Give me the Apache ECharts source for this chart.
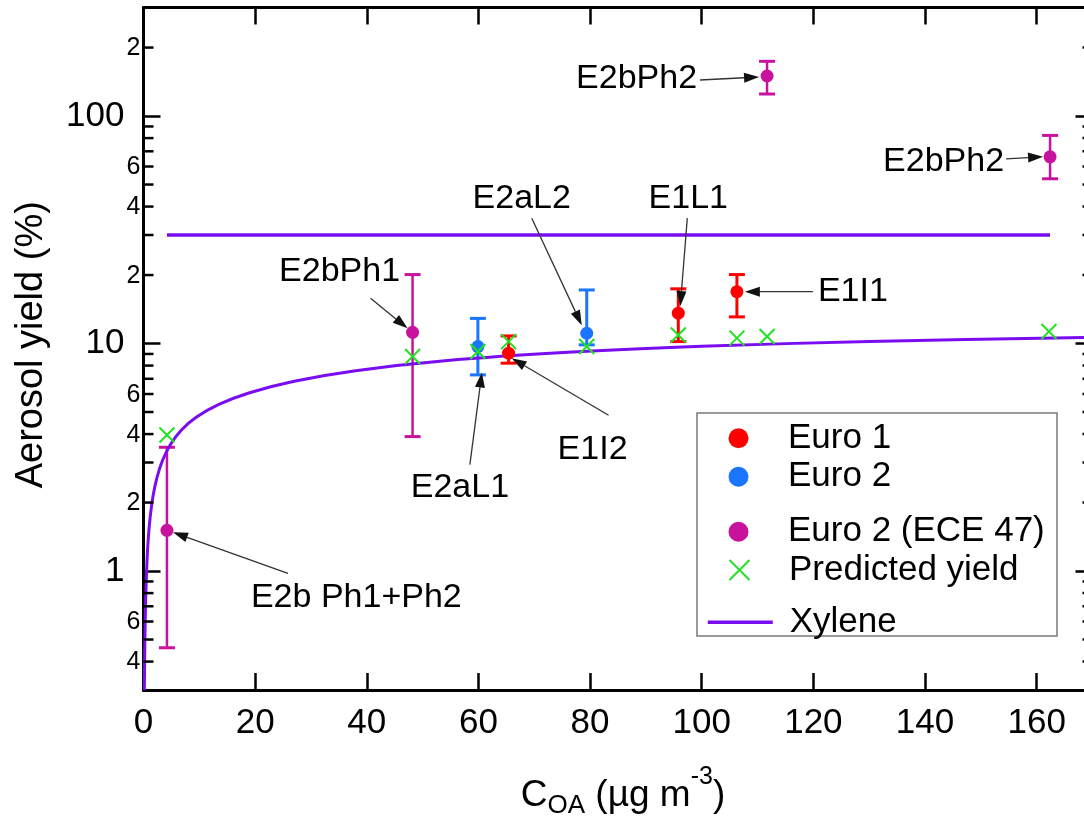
<!DOCTYPE html>
<html>
<head>
<meta charset="utf-8">
<script src="https://cdn.jsdelivr.net/npm/echarts@6/dist/echarts.min.js"></script>
<style>
  html, body { margin: 0; padding: 0; background: #fff; }
  #chart { width: 1084px; height: 816px; }
</style>
</head>
<body>
<div id="chart"></div>
<script>
// ---- Euro 1 vehicles: measured yield with uncertainty range ----
const euro1Names = ['E1I2', 'E1L1', 'E1I1'];
const euro1X     = [65.4, 95.8, 106.3];
const euro1Y     = [9.07, 13.6, 16.9];
const euro1Low   = [8.2, 10.2, 13.1];
const euro1High  = [10.8, 17.4, 20.1];

// ---- Euro 2 vehicles ----
const euro2Names = ['E2aL1', 'E2aL2'];
const euro2X     = [59.9, 79.4];
const euro2Y     = [9.7, 11.1];
const euro2Low   = [7.28, 9.87];
const euro2High  = [12.9, 17.2];

// ---- Euro 2 (ECE 47) vehicles ----
const ece47Names = ['E2b Ph1+Ph2', 'E2bPh1', 'E2bPh2', 'E2bPh2'];
const ece47X     = [4.2, 48.2, 111.7, 162.4];
const ece47Y     = [1.51, 11.2, 150, 66.2];
const ece47Low   = [0.46, 3.9, 125, 53];
const ece47High  = [3.5, 20.1, 174, 82.2];

// ---- Predicted yield at each experiment's C_OA ----
const predX = [4.2, 48.2, 59.9, 65.4, 79.4, 95.8, 106.3, 111.7, 162.2];
const predY = [3.96, 8.77, 9.22, 10.2, 9.7, 10.9, 10.56, 10.74, 11.29];

// ---- Xylene yield curve ----
const xyleneX = [0.15, 0.25, 0.4, 0.6, 0.85, 1.2, 1.7, 2.4, 3.4, 4.8, 6.8, 9.5, 13.5, 19, 27, 38, 54, 76, 100, 130, 170];
const xyleneY = [0.3, 0.5, 0.77, 1.07, 1.38, 1.73, 2.13, 2.57, 3.06, 3.59, 4.17, 4.75, 5.4, 6.08, 6.83, 7.6, 8.4, 9.15, 9.72, 10.22, 10.65];

// ---- Xylene level line ----
const xyleneLevelX = [4.2, 162.4];
const xyleneLevelY = [30, 30];

// ---- Axis ranges and extra log-axis ticks ----
const X_MIN = 0, X_MAX = 170, X_STEP = 20;
const Y_MIN = 0.3, Y_MAX = 300;
const minorTickValues  = [0.4, 0.5, 0.6, 0.7, 0.8, 0.9, 2, 3, 4, 5, 6, 7, 8, 9, 20, 30, 40, 50, 60, 70, 80, 90, 200];
const minorLabelValues = [0.4, 0.6, 2, 4, 6, 20, 40, 60, 200];
const minorLabelTexts  = ['4', '6', '2', '4', '6', '2', '4', '6', '2'];

// ---- Styling ----
const FONT = "'Liberation Sans', Arimo, Arial, sans-serif";
const C = {
  euro1: '#ff0000',
  euro2: '#1a75ff',
  ece47: '#c8129e',
  pred: '#22e022',
  xylene: '#7a0cf2',
  ink: '#000'
};

const groups = {
  euro1: { names: euro1Names, x: euro1X, y: euro1Y, lo: euro1Low, hi: euro1High },
  euro2: { names: euro2Names, x: euro2X, y: euro2Y, lo: euro2Low, hi: euro2High },
  ece47: { names: ece47Names, x: ece47X, y: ece47Y, lo: ece47Low, hi: ece47High }
};

// Callout placement, in pixels relative to the labelled point
const annotationLayout = [
  { group: 'ece47', i: 0, label: [84, 67],    align: 'left',   start: [121, 43],  tip: [6, 2] },
  { group: 'ece47', i: 1, label: [-73, -61],  align: 'center', start: [-42, -34], tip: [-5, -4] },
  { group: 'ece47', i: 2, label: [-70, 3],    align: 'right',  start: [-67, 4],   tip: [-8, 1] },
  { group: 'ece47', i: 3, label: [-46, 5],    align: 'right',  start: [-44, 2],   tip: [-7, 0] },
  { group: 'euro2', i: 0, label: [-18, 141],  align: 'center', start: [-8, 118],  tip: [4, 26] },
  { group: 'euro2', i: 1, label: [-65, -135], align: 'center', start: [-55, -115], tip: [-5, -8] },
  { group: 'euro1', i: 0, label: [84, 96],    align: 'center', start: [100, 62],  tip: [3, 5] },
  { group: 'euro1', i: 1, label: [10, -115],  align: 'center', start: [9, -95],   tip: [2, -7] },
  { group: 'euro1', i: 2, label: [81, 0],     align: 'left',   start: [76, 0],    tip: [8, 0] }
];

function zip(a, b) { return a.map((v, k) => [v, b[k]]); }

function errorBarSeries(name, g, color, width) {
  return {
    name: name,
    type: 'custom',
    clip: false,
    silent: true,
    z: 3,
    encode: { x: 0, y: [1, 2] },
    data: g.x.map((v, k) => [v, g.lo[k], g.hi[k]]),
    renderItem: function (params, api) {
      const x = api.value(0);
      const lo = api.coord([x, api.value(1)]);
      const hi = api.coord([x, api.value(2)]);
      const cw = 8;
      const st = { stroke: color, lineWidth: width };
      const cap = { stroke: color, lineWidth: 3 };
      return {
        type: 'group',
        children: [
          { type: 'line', shape: { x1: lo[0], y1: lo[1], x2: hi[0], y2: hi[1] }, style: st },
          { type: 'line', shape: { x1: lo[0] - cw, y1: lo[1], x2: lo[0] + cw, y2: lo[1] }, style: cap },
          { type: 'line', shape: { x1: hi[0] - cw, y1: hi[1], x2: hi[0] + cw, y2: hi[1] }, style: cap }
        ]
      };
    }
  };
}

function pointSeries(name, g, color) {
  return {
    name: name,
    type: 'scatter',
    z: 4,
    symbol: 'circle',
    symbolSize: 13,
    itemStyle: { color: color, opacity: 1 },
    data: zip(g.x, g.y)
  };
}

function textEl(x, y, text, size, align) {
  return {
    type: 'text',
    x: x, y: y,
    style: {
      text: text,
      fontSize: size,
      fontFamily: FONT,
      font: size + 'px ' + FONT,
      fill: C.ink,
      textFill: C.ink,
      align: align, textAlign: align,
      verticalAlign: 'middle', textVerticalAlign: 'middle'
    }
  };
}

const legendText = { fontSize: 35, color: C.ink, fontFamily: FONT, padding: [0, 0, 0, 12] };
function legendBox(item, left, top, itemHeight) {
  return {
    orient: 'vertical',
    left: left,
    top: top,
    padding: 0,
    itemWidth: 65,
    itemHeight: itemHeight,
    itemGap: 0,
    textStyle: legendText,
    data: [item]
  };
}

const option = {
  animation: false,
  backgroundColor: '#fff',
  textStyle: { fontFamily: FONT },
  grid: {
    left: 143.5, right: -8.5, top: 7.5, bottom: 126,
    containLabel: false,
    outerBoundsMode: 'none'
  },
  graphic: [{
    type: 'rect',
    z: 1,
    shape: { x: 697, y: 413, width: 360, height: 223 },
    style: { fill: '#fff', stroke: '#7a7a7a', lineWidth: 1.5 }
  }],
  legend: [
    legendBox('Euro 1', 728.5, 420.8, 20),
    legendBox('Euro 2', 728.5, 459.2, 20),
    legendBox('Euro 2 (ECE 47)', 728.5, 514.2, 20),
    legendBox('Predicted yield', 728.5, 552.5, 20),
    legendBox({
      name: 'Xylene',
      itemStyle: { opacity: 0, color: 'rgba(0,0,0,0)', borderWidth: 0 },
      lineStyle: { color: C.xylene, width: 3.5 }
    }, 706, 604.8, 13)
  ],
  xAxis: [{
    type: 'value',
    position: 'bottom',
    min: X_MIN, max: X_MAX, interval: X_STEP,
    axisLine: { show: true, onZero: false, lineStyle: { color: C.ink, width: 3 } },
    axisTick: { show: true, inside: true, length: 17, lineStyle: { color: C.ink, width: 2.5 } },
    axisLabel: { color: C.ink, fontSize: 35, fontFamily: FONT, margin: 16, showMaxLabel: false },
    splitLine: { show: false },
    name: '{c|C}{s|OA}{c| (µg m}{p|-3}{c|)}',
    nameLocation: 'middle',
    nameGap: 86,
    nameMoveOverlap: false,
    nameTextStyle: {
      color: C.ink,
      padding: [0, 0, 0, 10],
      rich: {
        c: { fontSize: 37, fontFamily: FONT, color: C.ink, lineHeight: 40 },
        s: { fontSize: 26, fontFamily: FONT, color: C.ink, lineHeight: 26, padding: [20, 0, 0, 0] },
        p: { fontSize: 25, fontFamily: FONT, color: C.ink, lineHeight: 25, padding: [0, 0, 38, 0] }
      }
    }
  }, {
    type: 'value',
    position: 'top',
    min: X_MIN, max: X_MAX, interval: X_STEP,
    axisLine: { show: true, onZero: false, lineStyle: { color: C.ink, width: 3 } },
    axisTick: { show: true, inside: true, length: 17, lineStyle: { color: C.ink, width: 2.5 } },
    axisLabel: { show: false },
    splitLine: { show: false }
  }],
  yAxis: [{
    type: 'log',
    logBase: 10,
    position: 'left',
    min: Y_MIN, max: Y_MAX,
    axisLine: { show: true, onZero: false, lineStyle: { color: C.ink, width: 3 } },
    axisTick: { show: true, inside: true, length: 17, lineStyle: { color: C.ink, width: 2.5 } },
    axisLabel: { color: C.ink, fontSize: 35, fontFamily: FONT, margin: 19, showMinLabel: false, showMaxLabel: false },
    splitLine: { show: false },
    name: 'Aerosol yield (%)',
    nameLocation: 'middle',
    nameGap: 93,
    nameMoveOverlap: false,
    nameTextStyle: { color: C.ink, fontSize: 38, fontFamily: FONT, padding: [0, 0, 0, 8] }
  }, {
    type: 'log',
    logBase: 10,
    position: 'right',
    min: Y_MIN, max: Y_MAX,
    axisLine: { show: true, onZero: false, lineStyle: { color: C.ink, width: 3 } },
    axisTick: { show: true, inside: true, length: 17, lineStyle: { color: C.ink, width: 2.5 } },
    axisLabel: { show: false },
    splitLine: { show: false }
  }],
  series: [
    errorBarSeries('Euro 2 (ECE 47) range', groups.ece47, C.ece47, 2.5),
    errorBarSeries('Euro 2 range', groups.euro2, C.euro2, 3),
    errorBarSeries('Euro 1 range', groups.euro1, C.euro1, 3),
    pointSeries('Euro 1', groups.euro1, C.euro1),
    pointSeries('Euro 2', groups.euro2, C.euro2),
    pointSeries('Euro 2 (ECE 47)', groups.ece47, C.ece47),
    {
      name: 'Predicted yield',
      type: 'scatter',
      z: 5,
      symbol: 'path://M0,0L15,15M15,0L0,15',
      symbolSize: 15,
      symbolKeepAspect: true,
      itemStyle: { color: 'transparent', borderColor: C.pred, borderWidth: 2, opacity: 1 },
      data: zip(predX, predY)
    },
    {
      name: 'Xylene',
      type: 'line',
      z: 4,
      smooth: 0.3,
      showSymbol: false,
      symbol: 'none',
      lineStyle: { color: C.xylene, width: 3 },
      itemStyle: { color: C.xylene },
      data: zip(xyleneX, xyleneY)
    },
    {
      name: 'Xylene',
      type: 'line',
      z: 4,
      showSymbol: false,
      symbol: 'none',
      lineStyle: { color: C.xylene, width: 3.5 },
      itemStyle: { color: C.xylene },
      data: zip(xyleneLevelX, xyleneLevelY)
    },
    {
      // minor ticks on the left and right log axes
      name: 'minor ticks',
      type: 'custom',
      clip: false,
      silent: true,
      z: 6,
      data: minorTickValues.map(v => [X_MIN, v]),
      renderItem: function (params, api) {
        const v = api.value(1);
        const L = api.coord([X_MIN, v]);
        const R = api.coord([X_MAX, v]);
        const st = { stroke: C.ink, lineWidth: 2.5 };
        return {
          type: 'group',
          children: [
            { type: 'line', shape: { x1: L[0], y1: L[1], x2: L[0] + 10, y2: L[1] }, style: st },
            { type: 'line', shape: { x1: R[0] - 10, y1: R[1], x2: R[0], y2: R[1] }, style: st }
          ]
        };
      }
    },
    {
      // labels for the 2, 4, 6 steps of each decade
      name: 'minor labels',
      type: 'custom',
      clip: false,
      silent: true,
      z: 6,
      data: minorLabelValues.map(v => [X_MIN, v]),
      renderItem: function (params, api) {
        const p = api.coord([X_MIN, api.value(1)]);
        return textEl(p[0] - 3, p[1] + 1, minorLabelTexts[params.dataIndex], 25, 'right');
      }
    },
    {
      // callouts naming each experiment
      name: 'callouts',
      type: 'custom',
      clip: false,
      silent: true,
      z: 7,
      data: annotationLayout.map(a => [groups[a.group].x[a.i], groups[a.group].y[a.i]]),
      renderItem: function (params, api) {
        const a = annotationLayout[params.dataIndex];
        const p = api.coord([api.value(0), api.value(1)]);
        const sx = p[0] + a.start[0], sy = p[1] + a.start[1];
        const tx = p[0] + a.tip[0], ty = p[1] + a.tip[1];
        const dx = tx - sx, dy = ty - sy;
        const len = Math.hypot(dx, dy);
        const ux = dx / len, uy = dy / len;
        const hl = 15, hw = 5;
        const bx = tx - ux * hl, by = ty - uy * hl;
        return {
          type: 'group',
          children: [
            { type: 'line', shape: { x1: sx, y1: sy, x2: bx, y2: by }, style: { stroke: '#333', lineWidth: 1.3 } },
            { type: 'polygon', shape: { points: [[tx, ty], [bx - uy * hw, by + ux * hw], [bx + uy * hw, by - ux * hw]] }, style: { fill: '#111' } },
            textEl(p[0] + a.label[0], p[1] + a.label[1], groups[a.group].names[a.i], 34, a.align)
          ]
        };
      }
    }
  ]
};

const chart = echarts.init(document.getElementById('chart'), null, { renderer: 'canvas' });
chart.setOption(option);
</script>
</body>
</html>
